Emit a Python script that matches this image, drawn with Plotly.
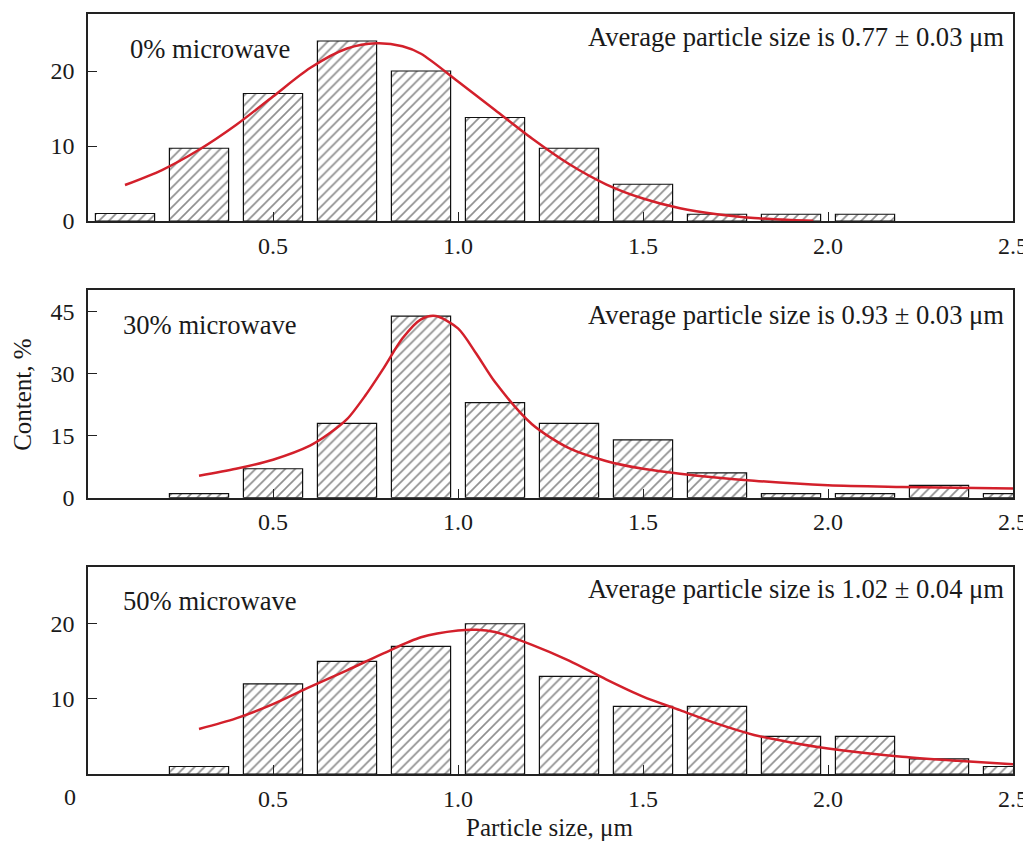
import plotly.graph_objects as go

# ---------------- data ----------------
p0_x = [0.1, 0.3, 0.5, 0.7, 0.9, 1.1, 1.3, 1.5, 1.7, 1.9, 2.1]
p0_y = [1, 9.7, 17, 24, 20, 13.8, 9.7, 4.9, 0.9, 0.9, 0.9]

p30_x = [0.3, 0.5, 0.7, 0.9, 1.1, 1.3, 1.5, 1.7, 1.9, 2.1, 2.3, 2.5]
p30_y = [1, 7, 18, 44, 23, 18, 14, 6, 1, 1, 3, 1]

p50_x = [0.3, 0.5, 0.7, 0.9, 1.1, 1.3, 1.5, 1.7, 1.9, 2.1, 2.3, 2.5]
p50_y = [1, 12, 15, 17, 20, 13, 9, 9, 5, 5, 2, 1]

fit0_x = [0.1, 0.2, 0.3, 0.4, 0.5, 0.6, 0.7, 0.78, 0.85, 0.9, 1.0,
          1.1, 1.2, 1.3, 1.4, 1.5, 1.6, 1.7, 1.8, 1.9, 1.96]
fit0_y = [4.8, 6.8, 9.5, 12.8, 16.6, 20.4, 23.0, 23.7, 23.3, 22.3, 18.6,
          14.8, 11.0, 7.6, 4.9, 3.0, 1.7, 0.9, 0.4, 0.15, 0.05]

fit30_x = [0.3, 0.4, 0.5, 0.6, 0.65, 0.7, 0.75, 0.8, 0.85, 0.9, 0.94, 1.0, 1.05,
           1.1, 1.2, 1.3, 1.4, 1.5, 1.6, 1.8, 2.0, 2.2, 2.5]
fit30_y = [5.3, 7.0, 9.2, 12.6, 15.4, 19.0, 24.8, 31.5, 38.6, 43.2, 44.0, 41.0, 34.8,
           28.0, 17.8, 12.0, 8.9, 7.0, 5.8, 4.1, 3.0, 2.6, 2.2]

fit50_x = [0.3, 0.4, 0.5, 0.6, 0.7, 0.8, 0.9, 1.0, 1.05, 1.1, 1.2,
           1.3, 1.4, 1.5, 1.6, 1.7, 1.8, 1.9, 2.0, 2.2, 2.35, 2.5]
fit50_y = [6.0, 7.4, 9.3, 11.6, 13.8, 16.1, 18.2, 19.1, 19.2, 18.9, 17.2,
           15.1, 12.6, 10.3, 8.5, 6.7, 5.2, 4.2, 3.4, 2.3, 1.75, 1.3]

labels_left = ["0% microwave", "30% microwave", "50% microwave"]
labels_right = ["Average particle size is 0.77 \u00b1 0.03 \u03bcm",
                "Average particle size is 0.93 \u00b1 0.03 \u03bcm",
                "Average particle size is 1.02 \u00b1 0.04 \u03bcm"]

x_ticks = [0.5, 1.0, 1.5, 2.0, 2.5]
y_ticks = [[0, 10, 20], [0, 15, 30, 45], [10, 20]]
y_ranges = [[0, 27.6], [0, 50.3], [0, 27.6]]

# ---------------- figure ----------------
FONT = "Liberation Serif, Times New Roman, serif"
RED = "#d3202b"
INK = "#1a1a1a"

fig = go.Figure()
panels = [(p0_x, p0_y, fit0_x, fit0_y), (p30_x, p30_y, fit30_x, fit30_y),
          (p50_x, p50_y, fit50_x, fit50_y)]
for i, (bx, by, fx, fy) in enumerate(panels):
    xa = "x" if i == 0 else f"x{i+1}"
    ya = "y" if i == 0 else f"y{i+1}"
    fig.add_trace(go.Bar(
        x=bx, y=by, width=0.16, xaxis=xa, yaxis=ya,
        marker=dict(color="white",
                    line=dict(color="#111111", width=1.2),
                    pattern=dict(shape="/", fgcolor="#1e1e1e", bgcolor="white",
                                 size=7, solidity=0.24)),
        showlegend=False, hoverinfo="skip"))
    fig.add_trace(go.Scatter(
        x=fx, y=fy, mode="lines", xaxis=xa, yaxis=ya,
        line=dict(color=RED, width=2.5, shape="spline", smoothing=0.8),
        showlegend=False, hoverinfo="skip"))

domains = [[0.7276, 1.0], [0.3636, 0.6368], [0.0, 0.2728]]
axis_common = dict(showline=True, linecolor="#222222", linewidth=1.5, mirror=True,
                   ticks="inside", ticklen=9, tickwidth=1.2, tickcolor="#222222",
                   showgrid=False, zeroline=False, automargin=False,
                   tickfont=dict(family=FONT, size=24, color=INK))
layout = {}
for i in range(3):
    xk = "xaxis" if i == 0 else f"xaxis{i+1}"
    yk = "yaxis" if i == 0 else f"yaxis{i+1}"
    ya = "y" if i == 0 else f"y{i+1}"
    xa = "x" if i == 0 else f"x{i+1}"
    layout[xk] = dict(axis_common, range=[0, 2.5], tickvals=x_ticks,
                      ticktext=[f"{v:.1f}" for v in x_ticks], anchor=ya,
                      ticklabelstandoff=2)
    layout[yk] = dict(axis_common, range=y_ranges[i], tickvals=y_ticks[i],
                      domain=domains[i], anchor=xa, ticklabelstandoff=7)
fig.update_layout(**layout)

annotations = []
left_y = [0.831, 0.831, 0.834]
right_y = [0.887, 0.88, 0.891]
left_x = [0.043, 0.036, 0.036]
for i in range(3):
    yr = "y domain" if i == 0 else f"y{i+1} domain"
    annotations.append(dict(text=labels_left[i], xref="paper", yref=yr,
                            x=left_x[i], y=left_y[i], xanchor="left", yanchor="middle",
                            showarrow=False, font=dict(family=FONT, size=26.6, color=INK)))
    annotations.append(dict(text=labels_right[i], xref="paper", yref=yr,
                            x=0.992, y=right_y[i], xanchor="right", yanchor="middle",
                            showarrow=False, font=dict(family=FONT, size=26.6, color=INK)))
# origin label, axis titles
annotations.append(dict(text="0", xref="paper", yref="paper", x=-0.019, y=-0.03,
                        xanchor="center", yanchor="middle", showarrow=False,
                        font=dict(family=FONT, size=24, color=INK)))
annotations.append(dict(text="Particle size, \u03bcm", xref="paper", yref="paper",
                        x=0.499, y=-0.071, xanchor="center", yanchor="middle",
                        showarrow=False, font=dict(family=FONT, size=25, color=INK)))
annotations.append(dict(text="Content, %", xref="paper", yref="paper",
                        x=-0.0715, y=0.5, xanchor="center", yanchor="middle", textangle=-90,
                        showarrow=False, font=dict(family=FONT, size=25, color=INK)))

# the page body adds an 8 px offset, so the figure is 8 px smaller and margins compensate
fig.update_layout(width=1023, height=834, margin=dict(l=80, r=18, t=6, b=68),
                  plot_bgcolor="white", paper_bgcolor="white",
                  annotations=annotations, bargap=0.2)

fig.write_html("out.html")
